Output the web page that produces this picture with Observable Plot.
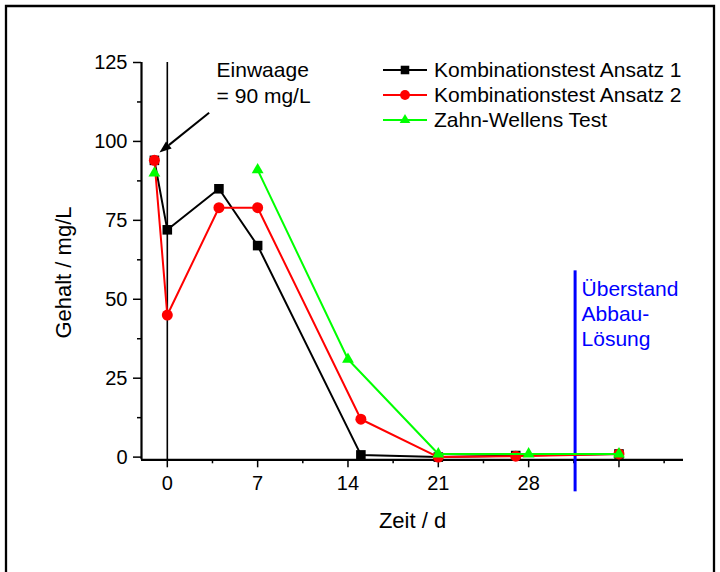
<!DOCTYPE html>
<html>
<head>
<meta charset="utf-8">
<script src="https://cdn.jsdelivr.net/npm/d3@7"></script>
<script src="https://cdn.jsdelivr.net/npm/@observablehq/plot@0.6"></script>
<style>
  html, body { margin: 0; padding: 0; background: white; overflow: hidden; }
  #chart { width: 720px; height: 572px; }
</style>
</head>
<body>
<div id="chart"></div>
<script>
// ---- data ----
const seriesNames = ["Kombinationstest Ansatz 1", "Kombinationstest Ansatz 2", "Zahn-Wellens Test"];
const days1 = [-1, 0, 4, 7, 15, 21, 27, 35];
const ansatz1 = [94, 72, 85, 67, 0.7, 0, 0.5, 1];
const days2 = [-1, 0, 4, 7, 15, 21, 27, 35];
const ansatz2 = [94, 45, 79, 79, 12, 0, 0.3, 1];
const daysZW = [-1, 7, 14, 21, 28, 35];
const zahnWellens = [90, 91, 31, 1, 1, 1];
const zwSegment = [0, 1, 1, 1, 1, 1]; // no line between day -1 and day 7

const xMajorTicks = [0, 7, 14, 21, 28, 35];
const xTickLabels = [0, 7, 14, 21, 28];
const xMinorTicks = [3.5, 10.5, 17.5, 24.5, 31.5, 38.5];
const yMajorTicks = [0, 25, 50, 75, 100, 125];
const yMinorTicks = [12.5, 37.5, 62.5, 87.5, 112.5];
const xDomain = [-2, 40];
const yDomain = [-0.85, 125];

// annotations
const einwaageText = "Einwaage\n= 90 mg/L";
const einwaagePos = {x: 3.82, y: 126.4};
const arrowData = {x1: 3.28, y1: 108.9, x2: -0.57, y2: 96.3};
const ueberstandX = 31.6;
const ueberstandText = "Überstand\nAbbau-\nLösung";
const ueberstandPos = {x: 32.1, y: 56.8};
const ueberstandLine = {y1: 59, y2: -11};

const s1 = days1.map((d, i) => ({day: d, value: ansatz1[i]}));
const s2 = days2.map((d, i) => ({day: d, value: ansatz2[i]}));
const s3 = daysZW.map((d, i) => ({day: d, value: zahnWellens[i], seg: zwSegment[i]}));

const colors = ["#000000", "#ff0000", "#00ff00"];
const symbols = ["square", "circle", "triangle"];
const radii = [5.4, 5.5, 4.4];
const font = "'Liberation Sans', Arial, sans-serif";

const chart = Plot.plot({
  width: 720,
  height: 572,
  marginLeft: 141,
  marginRight: 37,
  marginTop: 62,
  marginBottom: 112.7,
  x: {domain: xDomain, label: null},
  y: {domain: yDomain, label: null},
  style: {fontFamily: font, fontSize: "20px", color: "black", background: "white"},
  marks: [
    // axis lines
    Plot.ruleY([yDomain[0]], {stroke: "black", strokeWidth: 2.2}),
    Plot.ruleX([xDomain[0]], {stroke: "black", strokeWidth: 2.2}),
    // day-0 vertical line
    Plot.ruleX([0], {y1: yDomain[0], y2: 125, stroke: "black", strokeWidth: 1.6}),
    // ticks
    Plot.axisX({ticks: xMajorTicks, tickSize: 8, tickPadding: 8, strokeWidth: 1.5, fontSize: 20,
      tickFormat: d => xTickLabels.includes(d) ? String(d) : "", label: null}),
    Plot.axisX({ticks: xMinorTicks, tickSize: 4, strokeWidth: 1.5, tickFormat: () => "", label: null}),
    Plot.axisY({ticks: yMajorTicks, tickSize: 8, tickPadding: 6, strokeWidth: 1.5, fontSize: 20, label: null}),
    Plot.axisY({ticks: yMinorTicks, tickSize: 4, strokeWidth: 1.5, tickFormat: () => "", label: null}),
    // axis titles
    Plot.text(["Zeit / d"], {frameAnchor: "bottom", lineAnchor: "middle", textAnchor: "middle", dy: 61.4, fontSize: 22, fill: "black"}),
    Plot.text(["Gehalt / mg/L"], {frameAnchor: "left", lineAnchor: "middle", textAnchor: "middle", rotate: -90, dx: -78, dy: 11.4, fontSize: 22, fill: "black"}),
    // Überstand line
    Plot.ruleX([ueberstandX], {y1: ueberstandLine.y1, y2: ueberstandLine.y2, stroke: "#0000ff", strokeWidth: 3}),
    Plot.text([ueberstandText], {x: ueberstandPos.x, y: ueberstandPos.y, textAnchor: "start", lineAnchor: "top",
      lineHeight: 1.19, fontSize: 21, fill: "#0000ff"}),
    // Einwaage annotation
    Plot.text([einwaageText], {x: einwaagePos.x, y: einwaagePos.y, textAnchor: "start", lineAnchor: "top",
      lineHeight: 1.26, fontSize: 21, fill: "black"}),
    // series
    Plot.line(s1, {x: "day", y: "value", stroke: colors[0], strokeWidth: 2}),
    Plot.dot(s1, {x: "day", y: "value", symbol: symbols[0], r: radii[0], fill: colors[0]}),
    Plot.line(s2, {x: "day", y: "value", stroke: colors[1], strokeWidth: 2}),
    Plot.dot(s2, {x: "day", y: "value", symbol: symbols[1], r: radii[1], fill: colors[1]}),
    Plot.line(s3, {x: "day", y: "value", z: "seg", stroke: colors[2], strokeWidth: 2}),
    Plot.dot(s3, {x: "day", y: "value", symbol: symbols[2], r: radii[2], fill: colors[2]})
  ]
});

const svg = d3.select(chart);
const sx = chart.scale("x"), sy = chart.scale("y");

// annotation arrow with filled head
{
  const ax1 = sx.apply(arrowData.x1), ay1 = sy.apply(arrowData.y1);
  const ax2 = sx.apply(arrowData.x2), ay2 = sy.apply(arrowData.y2);
  const ang = Math.atan2(ay2 - ay1, ax2 - ax1);
  const hl = 12, hw = 4.5;
  const bx = ax2 - hl * Math.cos(ang), by = ay2 - hl * Math.sin(ang);
  const g = svg.append("g");
  g.append("line").attr("x1", ax1).attr("y1", ay1).attr("x2", bx).attr("y2", by)
    .attr("stroke", "black").attr("stroke-width", 2);
  g.append("path")
    .attr("d", `M${ax2},${ay2} L${bx + hw * Math.sin(ang)},${by - hw * Math.cos(ang)} L${bx - hw * Math.sin(ang)},${by + hw * Math.cos(ang)} Z`)
    .attr("fill", "black");
}

// legend
const lg = svg.append("g").attr("font-family", font).attr("font-size", 21).attr("text-anchor", "start");
const d3sym = [d3.symbolSquare, d3.symbolCircle, d3.symbolTriangle];
seriesNames.forEach((name, i) => {
  const y = 70 + i * 25;
  lg.append("line").attr("x1", 383).attr("x2", 427).attr("y1", y).attr("y2", y)
    .attr("stroke", colors[i]).attr("stroke-width", 2);
  lg.append("path").attr("transform", `translate(405,${y})`)
    .attr("d", d3.symbol(d3sym[i], Math.PI * radii[i] * radii[i] * 0.8)())
    .attr("fill", colors[i]);
  lg.append("text").attr("x", 434).attr("y", y + 7.3).attr("fill", "black")
    .attr("text-anchor", "start").text(name);
});

// outer frame (bottom edge lies outside the picture)
svg.append("path").attr("d", "M6,580 V6 H714 V580").attr("fill", "none").attr("stroke", "black").attr("stroke-width", 2.3);

document.getElementById("chart").appendChild(chart);
</script>
</body>
</html>
